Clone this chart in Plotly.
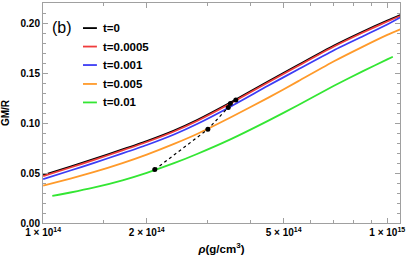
import plotly.graph_objects as go

rho = [1.0e14, 1.2e14, 1.4e14, 1.7e14, 2.0e14, 2.4e14, 2.8e14, 3.5e14,
       4.5e14, 5.5e14, 7.0e14, 8.5e14, 1.0e15, 1.09e15]
gm_t0 = [0.0478, 0.0565, 0.0639, 0.0736, 0.0820, 0.0925, 0.1030, 0.1205,
         0.1415, 0.1580, 0.1775, 0.1915, 0.2025, 0.2080]
gm_t0005 = [0.0468, 0.0555, 0.0629, 0.0726, 0.0810, 0.0915, 0.1020, 0.1195,
            0.1405, 0.1570, 0.1765, 0.1905, 0.2015, 0.2070]
gm_t001 = [0.0438, 0.0525, 0.0599, 0.0696, 0.0780, 0.0885, 0.0990, 0.1163,
           0.1372, 0.1535, 0.1728, 0.1868, 0.1985, 0.2055]
gm_t005 = [0.0373, 0.0444, 0.0508, 0.0599, 0.0684, 0.0791, 0.0890, 0.1055,
           0.1251, 0.1416, 0.1617, 0.1764, 0.1881, 0.1936]
rho_g = [1.063e14, 1.2e14, 1.4e14, 1.7e14, 2.0e14, 2.4e14, 2.8e14, 3.5e14,
         4.5e14, 5.5e14, 7.0e14, 8.5e14, 1.0e15, 1.038e15]
gm_t01 = [0.0272, 0.0305, 0.0353, 0.0427, 0.0502, 0.0598, 0.0690, 0.0836,
          0.1021, 0.1178, 0.1372, 0.1519, 0.1636, 0.1662]

# maximum points (dotted line)
max_rho = [2.11e14, 3.01e14, 3.45e14, 3.50e14, 3.63e14]
max_gm = [0.0534, 0.0937, 0.1156, 0.1196, 0.1230]

names = ["t=0", "t=0.0005", "t=0.001", "t=0.005", "t=0.01"]
colors = ["#000000", "#f03c3c", "#3c3cf5", "#ff9a2a", "#33e633"]
series = [(rho, gm_t0), (rho, gm_t0005), (rho, gm_t001), (rho, gm_t005), (rho_g, gm_t01)]

fig = go.Figure()
for (xs, ys), n, c in zip(series, names, colors):
    fig.add_trace(go.Scatter(x=xs, y=ys, mode="lines", name=n, showlegend=False,
                             line=dict(color=c, width=1.8, shape="spline", smoothing=0.6)))
fig.add_trace(go.Scatter(x=max_rho, y=max_gm, mode="lines+markers", showlegend=False,
                         line=dict(color="black", width=1.2, dash="dot"),
                         marker=dict(color="black", size=5)))

axcol = "#a0a0a0"
bold = dict(family="Liberation Sans, Arial", color="black", weight="bold")

# legend drawn inside the frame
leg_y = [0.886, 0.802, 0.718, 0.632, 0.548]
shapes, annotations = [], []
for n, c, yy in zip(names, colors, leg_y):
    shapes.append(dict(type="line", xref="paper", yref="paper", x0=0.112, x1=0.151,
                       y0=yy, y1=yy, line=dict(color=c, width=1.8)))
    annotations.append(dict(text=n, xref="paper", yref="paper", x=0.162, y=yy,
                            xanchor="left", yanchor="middle", showarrow=False,
                            font=dict(size=11.5, **bold)))
annotations.append(dict(text="(b)", xref="paper", yref="paper", x=0.053, y=0.89,
                        xanchor="center", yanchor="middle", showarrow=False,
                        font=dict(family="Liberation Sans, Arial", size=16, color="black")))

fig.update_layout(
    width=407, height=260,
    margin=dict(l=43, r=7, t=3, b=37),
    paper_bgcolor="white", plot_bgcolor="white",
    showlegend=False,
    shapes=shapes, annotations=annotations,
    xaxis=dict(type="log", range=[13.9995, 15.037],
               tickvals=[1e14, 2e14, 5e14, 1e15],
               ticktext=["1 × 10<sup>14</sup>", "2 × 10<sup>14</sup>", "5 × 10<sup>14</sup>", "1 × 10<sup>15</sup>"],
               ticks="inside", ticklen=5, tickcolor=axcol,
               showline=True, linecolor=axcol, linewidth=1, mirror="ticks",
               showgrid=False, zeroline=False,
               tickfont=dict(size=10, **bold),
               minor=dict(tickvals=[1.5e14, 3e14, 4e14, 6e14, 7e14, 8e14, 9e14],
                          ticks="inside", ticklen=3, tickcolor=axcol, showgrid=False),
               title=dict(text="<i>ρ</i>(g/cm<sup>3</sup>)", standoff=7,
                          font=dict(size=11.5, **bold))),
    yaxis=dict(range=[0, 0.22], tickvals=[0, 0.05, 0.10, 0.15, 0.20],
               ticktext=["0.00", "0.05", "0.10", "0.15", "0.20"],
               ticks="inside", ticklen=5, tickcolor=axcol,
               showline=True, linecolor=axcol, linewidth=1, mirror="ticks",
               showgrid=False, zeroline=False,
               tickfont=dict(size=10, **bold),
               minor=dict(dtick=0.01, ticks="inside", ticklen=3, tickcolor=axcol, showgrid=False),
               title=dict(text="GM/R", standoff=9, font=dict(size=10, **bold))),
)

fig.write_html("out.html", config={"displayModeBar": False},
               post_script="document.body.style.margin='0px';")
